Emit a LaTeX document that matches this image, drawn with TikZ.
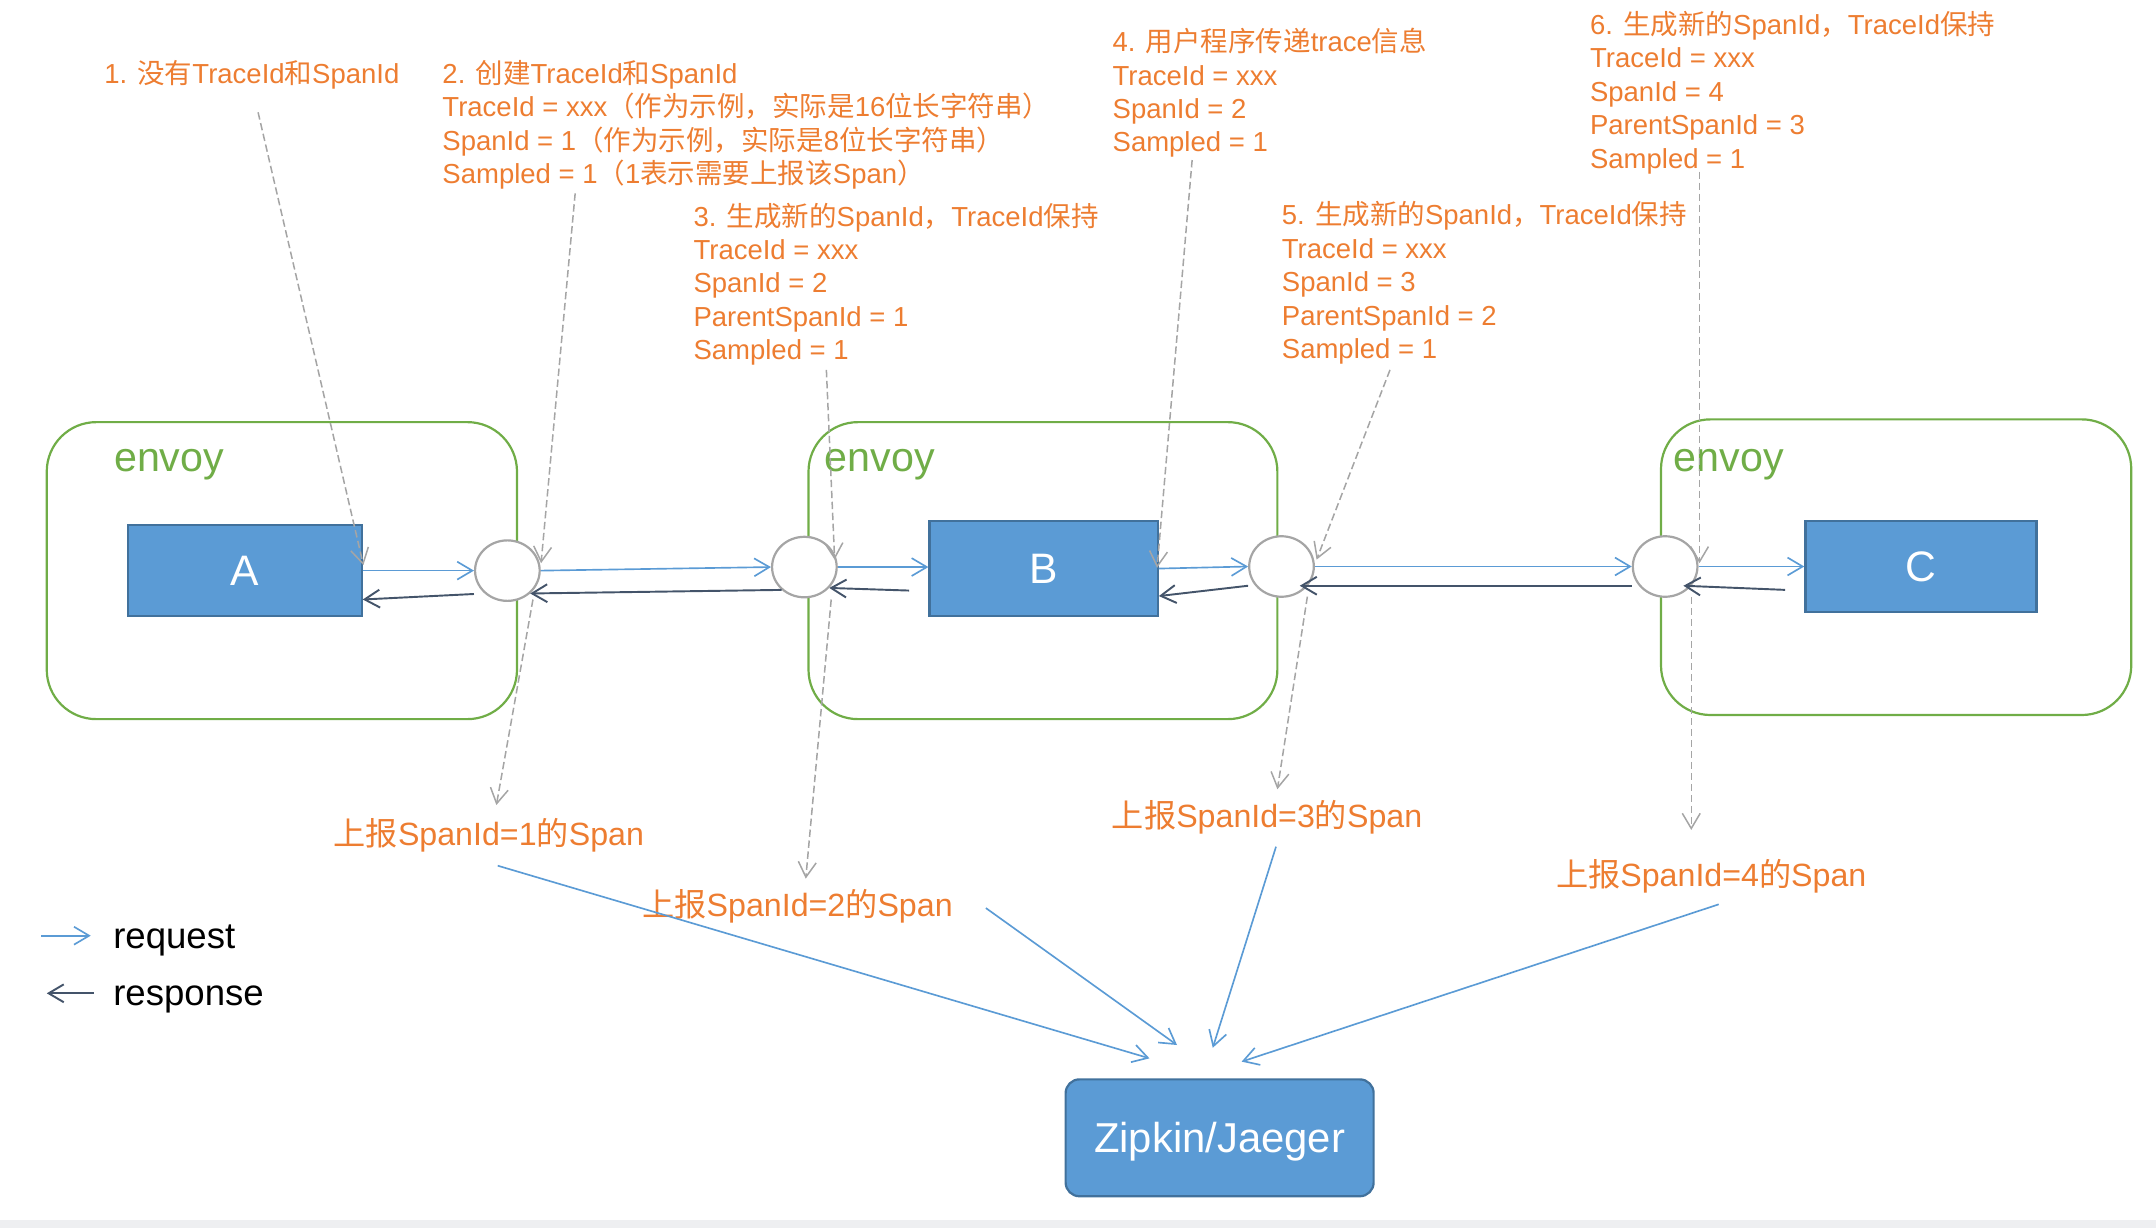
\documentclass[tikz,border=0pt]{standalone}
\usepackage{fontspec}
\setmainfont{Liberation Sans}
\newfontfamily\cjk{Noto Sans CJK SC}
\usetikzlibrary{arrows.meta,shapes.geometric}
\definecolor{orng}{HTML}{ED7D31}
\definecolor{grn}{HTML}{70AD47}
\definecolor{bfill}{HTML}{5B9BD5}
\definecolor{bline}{HTML}{41719C}
\definecolor{darkarrow}{HTML}{44546A}
\definecolor{dgray}{HTML}{A5A5A5}
\definecolor{band}{HTML}{EEEFF1}
\tikzset{
  envbox/.style={draw=grn, line width=0.8pt, rounded corners=18pt, inner sep=0pt},
  envlbl/.style={text=grn, anchor=base west, inner sep=0pt, font=\fontsize{15}{18}\selectfont},
  appbox/.style={draw=bline, fill=bfill, line width=0.8pt, text=white, inner sep=0pt, font=\fontsize{15.5}{18}\selectfont},
  circ/.style={ellipse, draw=dgray, fill=white, line width=0.8pt, minimum width=23.5pt, minimum height=22pt, inner sep=0pt},
  zbox/.style={draw=bline, fill=bfill, line width=0.8pt, rounded corners=5pt, text=white, inner sep=0pt, text depth=0pt, font=\fontsize{15.2}{18}\selectfont},
  tipb/.tip={Straight Barb[length=5.5pt,width=6.5pt]},
  req/.style={draw=bfill, line width=0.6pt, -tipb},
  resp/.style={draw=darkarrow, line width=0.7pt, -tipb},
  dsh/.style={draw=dgray, line width=0.55pt, dash pattern=on 2.7pt off 1.3pt, -tipb},
  txt/.style={text=orng, anchor=base west, inner sep=0pt, font=\fontsize{10}{12}\selectfont},
  rep/.style={text=orng, inner sep=0pt, font=\fontsize{11.7}{14}\selectfont},
  leg/.style={text=black, anchor=base west, inner sep=0pt, font=\fontsize{13.3}{16}\selectfont}
}
\newcommand\orblock[4]{\foreach \ln [count=\k from 0] in {#4}{\node[txt] (#1-\k) at (#2,{#3+24.3*\k}) {\ln};}}
\begin{document}
\begin{tikzpicture}[x=0.5pt,y=-0.5pt]
\useasboundingbox (0,0) rectangle (1568,893);
\fill[band] (0,887.3) rectangle (1568,893);

% envoy containers
\node[envbox, minimum width=171pt, minimum height=108pt] (envA) at (205,415) {};
\node[envbox, minimum width=170.5pt, minimum height=108pt] (envB) at (758.5,415) {};
\node[envbox, minimum width=171pt, minimum height=107.5pt] (envC) at (1379,412.5) {};
\node[envlbl] (eA) at (82.6,343) {envoy};
\node[envlbl] (eB) at (599.5,343) {envoy};
\node[envlbl] (eC) at (1217,343) {envoy};

% applications
\node[appbox, minimum width=85pt, minimum height=33pt] (boxA) at (178,415) {A};
\node[appbox, minimum width=83pt, minimum height=34.5pt] (boxB) at (759,413.5) {B};
\node[appbox, minimum width=84pt, minimum height=33pt] (boxC) at (1397,412) {C};

% sidecar circles
\node[circ] (c1) at (369,415) {};
\node[circ] (c2) at (585,412.4) {};
\node[circ] (c3) at (932,412) {};
\node[circ] (c4) at (1211,412) {};

% requests
\draw[req] (boxA.east) -- (c1.west);
\draw[req] (c1.east) -- (c2.west);
\draw[req] (c2.east) -- (c2.east -| boxB.west);
\draw[req] (boxB.east) -- (c3.west);
\draw[req] (c3.east) -- (c4.west);
\draw[req] (c4.east) -- (c4.east -| boxC.west);

% responses
\draw[resp] ([yshift=-8.5pt]c1.west) -- ([yshift=-10.5pt]boxA.east);
\draw[resp] (c2.225) -- (c1.315);
\draw[resp] ([xshift=-7pt,yshift=-8pt]boxB.west) -- (c2.320);
\draw[resp] ([yshift=-7pt]c3.west) -- ([yshift=-10pt]boxB.east);
\draw[resp] ([yshift=-7pt]c4.west) -- ([xshift=-5.5pt,yshift=-7pt]c3.east);
\draw[resp] ([xshift=-7pt,yshift=-8.5pt]boxC.west) -- ([xshift=-5.5pt,yshift=-7pt]c4.east);

% annotation blocks
\orblock{b1}{75.5}{60.6}{1. {\cjk 没有}TraceId{\cjk 和}SpanId}
\orblock{b2}{321.4}{60.6}{2. {\cjk 创建}TraceId{\cjk 和}SpanId, TraceId = xxx{\cjk （作为示例，实际是}16{\cjk 位长字符串）}, SpanId = 1{\cjk （作为示例，实际是}8{\cjk 位长字符串）}, Sampled = 1{\cjk （}1{\cjk 表示需要上报该}Span{\cjk ）}}
\orblock{b3}{504}{164.4}{3. {\cjk 生成新的}SpanId{\cjk ，}TraceId{\cjk 保持}, TraceId = xxx, SpanId = 2, ParentSpanId = 1, Sampled = 1}
\orblock{b4}{808.8}{37.6}{4. {\cjk 用户程序传递}trace{\cjk 信息}, TraceId = xxx, SpanId = 2, Sampled = 1}
\orblock{b5}{931.9}{163.6}{5. {\cjk 生成新的}SpanId{\cjk ，}TraceId{\cjk 保持}, TraceId = xxx, SpanId = 3, ParentSpanId = 2, Sampled = 1}
\orblock{b6}{1156}{25}{6. {\cjk 生成新的}SpanId{\cjk ，}TraceId{\cjk 保持}, TraceId = xxx, SpanId = 4, ParentSpanId = 3, Sampled = 1}

% report labels
\node[rep] (r1) at (355.5,607.5) {{\cjk 上报}SpanId=1{\cjk 的}Span};
\node[rep] (r2) at (580,659.3) {{\cjk 上报}SpanId=2{\cjk 的}Span};
\node[rep] (r3) at (921.5,594.3) {{\cjk 上报}SpanId=3{\cjk 的}Span};
\node[rep] (r4) at (1244.5,637.2) {{\cjk 上报}SpanId=4{\cjk 的}Span};

% dashed annotation pointers
\coordinate (d1a) at (187.7,81.7);  \coordinate (d1b) at (264.3,411);
\coordinate (d2a) at (418.3,140.6); \coordinate (d2b) at (393.5,409.6);
\coordinate (d2c) at (387.6,436);   \coordinate (d2d) at (361,585.5);
\coordinate (d3a) at (601,269);     \coordinate (d3b) at (607,407);
\coordinate (d3c) at (604.5,436);   \coordinate (d3d) at (586,639);
\coordinate (d4a) at (867,116.4);   \coordinate (d4b) at (841.5,413);
\coordinate (d5a) at (1010.9,269);  \coordinate (d5b) at (957.5,407);
\coordinate (d5c) at (950.8,433.9); \coordinate (d5d) at (929,574);
\coordinate (d6a) at (1236,124.8);  \coordinate (d6b) at (1236,409.6);
\coordinate (d6c) at (1230,434);    \coordinate (d6d) at (1230,603.6);
\draw[dsh] (d1a) -- (d1b);
\draw[dsh] (d2a) -- (d2b);
\draw[dsh] (d2c) -- (d2d);
\draw[dsh] (d3a) -- (d3b);
\draw[dsh] (d3c) -- (d3d);
\draw[dsh] (d4a) -- (d4b);
\draw[dsh] (d5a) -- (d5b);
\draw[dsh] (d5c) -- (d5d);
\draw[dsh] (d6a) -- (d6b);
\draw[dsh] (d6c) -- (d6d);

% collector
\node[zbox, minimum width=112pt, minimum height=42.5pt] (zip) at (887,827.5) {Zipkin/Jaeger};
\coordinate (z1a) at (362,629.6);  \coordinate (z1b) at (836,769.7);
\coordinate (z2a) at (717,660.4);  \coordinate (z2b) at (856,760);
\coordinate (z3a) at (928,615.8);  \coordinate (z3b) at (882,762);
\coordinate (z4a) at (1250,657.7); \coordinate (z4b) at (903,772.1);
\draw[req] (z1a) -- (z1b);
\draw[req] (z2a) -- (z2b);
\draw[req] (z3a) -- (z3b);
\draw[req] (z4a) -- (z4b);

% legend
\coordinate (lq1) at (30,680.5); \coordinate (lq2) at (66,680.5);
\coordinate (lr1) at (68,722.4); \coordinate (lr2) at (34,722.4);
\draw[req] (lq1) -- (lq2);
\draw[resp] (lr1) -- (lr2);
\node[leg] (lreq) at (82,689.7) {request};
\node[leg] (lresp) at (82,731.6) {response};
\end{tikzpicture}
\end{document}
